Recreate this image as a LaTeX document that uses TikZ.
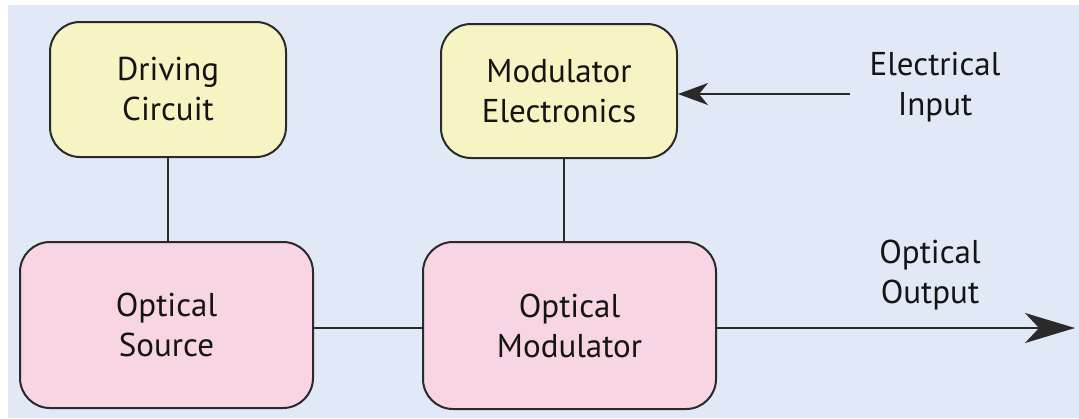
\documentclass[tikz,border=0pt]{standalone}
\usepackage{fontspec}
\setmainfont{PT Sans}
\usetikzlibrary{arrows.meta}
\definecolor{bgblue}{HTML}{E1E8F6}
\definecolor{boxyellow}{HTML}{F5F4C2}
\definecolor{boxpink}{HTML}{F8D5E3}
\definecolor{edge}{HTML}{2A2A2A}
\definecolor{txt}{HTML}{141414}
\tikzset{
  blk/.style={draw=edge, line width=2pt, rounded corners=30pt, align=center,
    text=txt, font=\fontsize{33}{40}\selectfont, inner sep=0pt},
  ybox/.style={blk, fill=boxyellow},
  pbox/.style={blk, fill=boxpink},
  conn/.style={draw=edge, line width=1.6pt},
  lbl/.style={align=center, text=txt, font=\fontsize{33}{40}\selectfont},
}
\begin{document}
\begin{tikzpicture}[x=1pt,y=-1pt]
\useasboundingbox (0,0) rectangle (1079,418);
\fill[bgblue] (8,5) rectangle (1079,418);
\node[ybox, minimum width=236, minimum height=135] (dc) at (168,89.5) {Driving\\Circuit};
\node[ybox, minimum width=236, minimum height=134] (me) at (559,91) {Modulator\\Electronics};
\node[pbox, minimum width=293, minimum height=166] (os) at (166.5,325) {Optical\\Source};
\node[pbox, minimum width=293, minimum height=167] (om) at (569.5,325.5) {Optical\\Modulator};
\node[lbl] (ei) at (935,87) {Electrical\\Input};
\node[lbl] (oo) at (930,275) {Optical\\Output};
\coordinate (inend) at (850,94);
\coordinate (outend) at (1075,328);
\draw[conn] (dc.south) -- (dc.south |- os.north);
\draw[conn] ([xshift=5pt]me.south) -- ([xshift=5pt]me.south |- om.north);
\draw[conn] (os.east |- outend) -- (om.west |- outend);
\draw[conn, -{Stealth[length=30pt, width=22pt, inset=9pt]}] (inend) -- (inend -| me.east);
\draw[conn, -{Stealth[length=50pt, width=30pt, inset=14pt]}] (om.east |- outend) -- (outend);
\end{tikzpicture}
\end{document}
